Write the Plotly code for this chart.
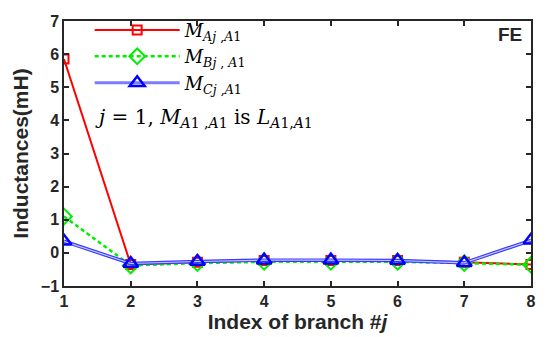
import plotly.graph_objects as go

branch = [1, 2, 3, 4, 5, 6, 7, 8]
m_a = [5.85, -0.35, -0.28, -0.23, -0.23, -0.23, -0.28, -0.35]
m_b = [1.10, -0.38, -0.31, -0.27, -0.27, -0.27, -0.31, -0.36]
m_c = [0.35, -0.32, -0.26, -0.22, -0.22, -0.23, -0.30, 0.38]

x_ticks = [1, 2, 3, 4, 5, 6, 7, 8]
y_ticks = [-1, 0, 1, 2, 3, 4, 5, 6, 7]

leg_font = dict(family="DejaVu Serif", size=18, color="black")
dark = "#262626"

fig = go.Figure()
fig.add_trace(go.Scatter(
    x=branch, y=m_a, mode="lines+markers",
    name="<i>M</i><sub><i>Aj</i> ,<i>A</i>1</sub>",
    line=dict(color="#ff0000", width=2),
    marker=dict(symbol="square-open", size=9, color="#ff0000", line=dict(width=2))))
fig.add_trace(go.Scatter(
    x=branch, y=m_b, mode="lines+markers",
    name="<i>M</i><sub><i>Bj</i> , <i>A</i>1</sub>",
    line=dict(color="#00ee00", width=2.5, dash="4px,3px"),
    marker=dict(symbol="diamond-open", size=12, color="#00ee00", line=dict(width=2))))
fig.add_trace(go.Scatter(
    x=branch, y=m_c, mode="lines",
    line=dict(color="#3a3aff", width=3.5), showlegend=False, hoverinfo="skip"))
fig.add_trace(go.Scatter(
    x=branch, y=m_c, mode="lines", line=dict(color="#c4c4ff", width=1.2),
    showlegend=False, hoverinfo="skip"))
fig.add_trace(go.Scatter(
    x=branch, y=m_c, mode="markers",
    name="<i>M</i><sub><i>Cj</i> ,<i>A</i>1</sub>",
    marker=dict(symbol="triangle-up-open", size=13, color="#0000ff", line=dict(width=2.5)),
    showlegend=False))
# legend-only entry for the blue series (line + marker sample)
fig.add_trace(go.Scatter(
    x=[None], y=[None], mode="lines+markers",
    name="<i>M</i><sub><i>Cj</i> ,<i>A</i>1</sub>",
    line=dict(color="#7c7cff", width=3),
    marker=dict(symbol="triangle-up-open", size=13, color="#0000ff", line=dict(width=2.5))))

fig.add_annotation(
    x=0.063, y=0.635, xref="paper", yref="paper", xanchor="left", yanchor="middle",
    text="<i>j</i> = 1, <i>M</i><sub><i>A</i>1 ,<i>A</i>1</sub> is <i>L</i><sub><i>A</i>1,<i>A</i>1</sub>",
    showarrow=False, font=dict(family="DejaVu Serif", size=20, color="black"))
fig.add_annotation(
    x=0.985, y=0.95, xref="paper", yref="paper", xanchor="right", yanchor="middle",
    text="FE", showarrow=False,
    font=dict(family="Liberation Sans", size=19, color=dark, weight="bold"))

axis_common = dict(
    showgrid=False, zeroline=False, showline=True, mirror="ticks",
    linecolor=dark, linewidth=1.5, ticks="inside", ticklen=5,
    tickcolor=dark, tickwidth=1.5,
    tickfont=dict(family="Liberation Sans", size=16, color=dark, weight="bold"))

fig.update_layout(
    width=548, height=337,
    margin=dict(l=64, r=16, t=15, b=48),
    paper_bgcolor="white", plot_bgcolor="white",
    font=dict(family="Liberation Sans"),
    xaxis=dict(range=[1, 8], tickvals=x_ticks,
               title=dict(text="Index of branch #<i>j</i>", standoff=0,
                          font=dict(family="Liberation Sans", size=21, color=dark, weight="bold")),
               **axis_common),
    yaxis=dict(range=[-1, 7], tickvals=y_ticks,
               title=dict(text="Inductances(mH)", standoff=6,
                          font=dict(family="Liberation Sans", size=21, color=dark, weight="bold")),
               **axis_common),
    legend=dict(x=0.055, y=1.035, xanchor="left", yanchor="top",
                bgcolor="rgba(0,0,0,0)", font=leg_font, itemwidth=85,
                tracegroupgap=0),
)

fig.write_html("out.html")
